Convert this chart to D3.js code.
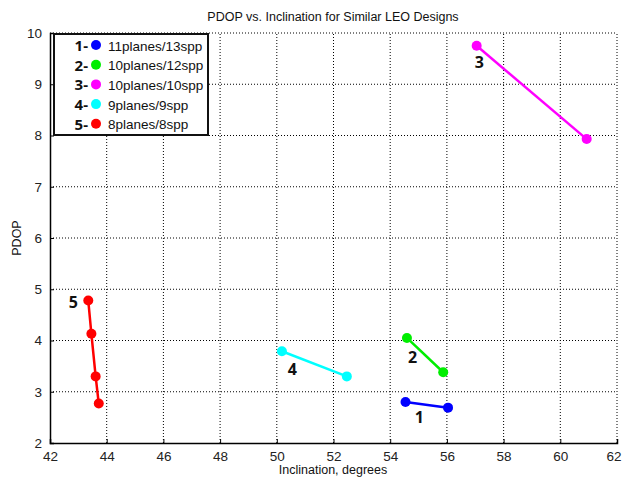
<!DOCTYPE html>
<html>
<head>
<meta charset="utf-8">
<script src="https://cdn.jsdelivr.net/npm/d3@7"></script>
<style>
  body { margin: 0; background: #fff; }
  svg { display: block; font-family: "Liberation Sans", Arial, sans-serif; }
</style>
</head>
<body>
<svg id="chart" width="623" height="480"></svg>
<script>
// series data
const seriesNames = ['11planes/13spp', '10planes/12spp', '10planes/10spp', '9planes/9spp', '8planes/8spp'];
const seriesColors = ['#0000ff', '#00ee00', '#ff00ff', '#00ffff', '#ff0000'];
const s1 = [[54.54, 2.80], [56.04, 2.69]];
const s2 = [[54.59, 4.05], [55.87, 3.38]];
const s3 = [[57.05, 9.75], [60.93, 7.93]];
const s4 = [[50.18, 3.79], [52.47, 3.30]];
const s5 = [[43.35, 4.78], [43.46, 4.13], [43.61, 3.30], [43.72, 2.77]];
const allSeries = [s1, s2, s3, s4, s5];
// number labels next to each line (x, y in data units)
const numLabels = [[55.03, 2.51, '1'], [54.79, 3.68, '2'], [57.14, 9.43, '3'], [50.55, 3.44, '4'], [42.82, 4.76, '5']];
const xTicks = [42, 44, 46, 48, 50, 52, 54, 56, 58, 60, 62];
const yTicks = [2, 3, 4, 5, 6, 7, 8, 9, 10];

const svg = d3.select('#chart');
const x = d3.scaleLinear().domain([42, 62]).range([50, 617]);
const y = d3.scaleLinear().domain([2, 10]).range([443, 33]);

// grid
const grid = svg.append('g');
grid.selectAll('.gx').data(xTicks.slice(1)).enter().append('line')
  .attr('x1', d => x(d)).attr('x2', d => x(d))
  .attr('y1', y(2)).attr('y2', y(10))
  .attr('stroke', '#000').attr('stroke-width', 1).attr('stroke-dasharray', '1,2');
grid.selectAll('.gy').data(yTicks.slice(1)).enter().append('line')
  .attr('x1', x(42)).attr('x2', x(62))
  .attr('y1', d => y(d)).attr('y2', d => y(d))
  .attr('stroke', '#000').attr('stroke-width', 1).attr('stroke-dasharray', '1,2');

// axes
const xAxis = svg.append('g').attr('transform', `translate(0,${y(2)})`)
  .call(d3.axisBottom(x).tickValues(xTicks).tickSize(-4).tickPadding(8));
const yAxis = svg.append('g').attr('transform', `translate(${x(42)},0)`)
  .call(d3.axisLeft(y).tickValues(yTicks).tickSize(-4).tickPadding(8));
[xAxis, yAxis].forEach(a => {
  a.select('.domain').attr('stroke', '#000').attr('stroke-width', 1.5);
  a.selectAll('text').attr('font-size', 13.5).attr('fill', '#222')
    .attr('font-family', '"Liberation Sans", Arial, sans-serif');
});
// keep last x tick label inside the page
xAxis.selectAll('.tick').filter(d => d === 62).select('text').attr('text-anchor', 'end').attr('dx', '0.3em');

// lines and markers
const line = d3.line().x(d => x(d[0])).y(d => y(d[1]));
allSeries.forEach((s, i) => {
  svg.append('path').datum(s).attr('d', line)
    .attr('fill', 'none').attr('stroke', seriesColors[i]).attr('stroke-width', 2.5);
  svg.selectAll(null).data(s).enter().append('circle')
    .attr('cx', d => x(d[0])).attr('cy', d => y(d[1])).attr('r', 5)
    .attr('fill', seriesColors[i]);
});

svg.selectAll('.num').data(numLabels).enter().append('text')
  .attr('x', d => x(d[0])).attr('y', d => y(d[1]))
  .attr('text-anchor', 'middle').attr('dominant-baseline', 'central')
  .attr('font-family', '"Open Sans", sans-serif').attr('font-weight', 'bold')
  .attr('font-size', 16).attr('fill', '#111')
  .text(d => d[2]);

// title and axis labels
svg.append('text').attr('x', 333).attr('y', 21).attr('text-anchor', 'middle')
  .attr('font-size', 12.5).attr('fill', '#111').text('PDOP vs. Inclination for Similar LEO Designs');
svg.append('text').attr('x', 333).attr('y', 474).attr('text-anchor', 'middle')
  .attr('font-size', 12.5).attr('fill', '#111').text('Inclination, degrees');
svg.append('text').attr('transform', 'translate(21,238) rotate(-90)').attr('text-anchor', 'middle')
  .attr('font-size', 12.5).attr('fill', '#111').text('PDOP');

// legend
const legend = svg.append('g');
legend.append('rect').attr('x', 54).attr('y', 34).attr('width', 154).attr('height', 101)
  .attr('fill', '#fff').attr('stroke', '#111').attr('stroke-width', 2);
seriesNames.forEach((n, i) => {
  const cy = 45 + i * 19.7;
  legend.append('text').attr('x', 88).attr('y', cy).attr('text-anchor', 'end')
    .attr('dominant-baseline', 'central')
    .attr('font-family', '"Open Sans", sans-serif').attr('font-weight', 'bold')
    .attr('font-size', 15).attr('fill', '#111').text((i + 1) + '-');
  legend.append('circle').attr('cx', 96).attr('cy', cy).attr('r', 5).attr('fill', seriesColors[i]);
  legend.append('text').attr('x', 108).attr('y', cy + 1).attr('dominant-baseline', 'central')
    .attr('font-size', 13.5).attr('fill', '#111').text(n);
});
</script>
</body>
</html>
